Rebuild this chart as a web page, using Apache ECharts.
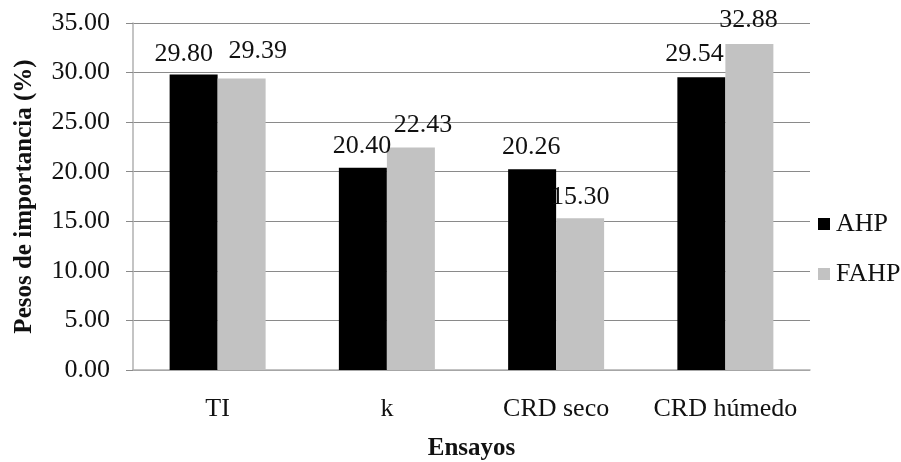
<!DOCTYPE html>
<html>
<head>
<meta charset="utf-8">
<script src="https://cdn.jsdelivr.net/npm/echarts@6/dist/echarts.min.js"></script>
<style>
  html, body { margin: 0; padding: 0; background: #fff; }
  #chart { width: 901px; height: 462px; }
</style>
</head>
<body>
<div id="chart"></div>
<script>
// Importance weights per test, AHP vs fuzzy AHP
const categories = ['TI', 'k', 'CRD seco', 'CRD húmedo'];
const ahpValues = [29.80, 20.40, 20.26, 29.54];
const fahpValues = [29.39, 22.43, 15.30, 32.88];
const seriesNames = ['AHP', 'FAHP'];

// small nudges for value labels so neighbouring labels don't collide
const ahpLabelShift = [[-10, 2], [-1, 0], [-1, 0], [-7, -1]];
const fahpLabelShift = [[16, -5], [12, 0], [0, 1], [-1, -2]];

const FONT = '"Liberation Serif", "Times New Roman", serif';
const fmt = v => Number(v).toFixed(2);

function withLabels(values, shifts) {
  return values.map((v, i) => ({
    value: v,
    label: { offset: shifts[i] }
  }));
}

const chart = echarts.init(document.getElementById('chart'), null, { renderer: 'canvas' });

const labelStyle = {
  show: true,
  position: 'top',
  distance: 9,
  fontFamily: FONT,
  fontSize: 26,
  color: '#111',
  formatter: p => fmt(p.value)
};

chart.setOption({
  animation: false,
  backgroundColor: '#ffffff',
  grid: { left: 133, right: 91, top: 23, bottom: 92, containLabel: false, outerBoundsMode: 'none' },
  legend: {
    orient: 'vertical',
    left: 813,
    top: 206,
    itemGap: 24,
    itemWidth: 12,
    itemHeight: 12,
    icon: 'rect',
    textStyle: { fontFamily: FONT, fontSize: 26, color: '#111', padding: [0, 0, 0, 1] },
    data: seriesNames
  },
  xAxis: {
    type: 'category',
    data: categories,
    name: 'Ensayos',
    nameLocation: 'middle',
    nameGap: 66,
    nameTextStyle: { fontFamily: FONT, fontSize: 25, fontWeight: 'bold', color: '#111' },
    axisLine: { show: true, lineStyle: { color: '#b0b0b0', width: 1.5 } },
    axisTick: { show: false },
    axisLabel: { interval: 0, fontFamily: FONT, fontSize: 26, color: '#111', margin: 26 }
  },
  yAxis: {
    type: 'value',
    min: 0,
    max: 35,
    interval: 5,
    name: 'Pesos de importancia (%)',
    nameLocation: 'middle',
    nameGap: 96,
    nameTextStyle: { fontFamily: FONT, fontSize: 25, fontWeight: 'bold', color: '#111' },
    axisLine: { show: true, lineStyle: { color: '#b0b0b0', width: 1.5 } },
    axisTick: { show: true, length: 7, lineStyle: { color: '#8a8a8a' } },
    axisLabel: { fontFamily: FONT, fontSize: 26, color: '#111', margin: 23, formatter: v => fmt(v) },
    splitLine: { show: true, lineStyle: { color: '#8a8a8a', width: 1.2 } }
  },
  series: [
    {
      name: seriesNames[0],
      type: 'bar',
      data: withLabels(ahpValues, ahpLabelShift),
      barWidth: 48,
      barGap: '0%',
      itemStyle: { color: '#000000' },
      label: labelStyle
    },
    {
      name: seriesNames[1],
      type: 'bar',
      data: withLabels(fahpValues, fahpLabelShift),
      barWidth: 48,
      barGap: '0%',
      itemStyle: { color: '#c2c2c2' },
      label: labelStyle
    }
  ]
});
</script>
</body>
</html>
